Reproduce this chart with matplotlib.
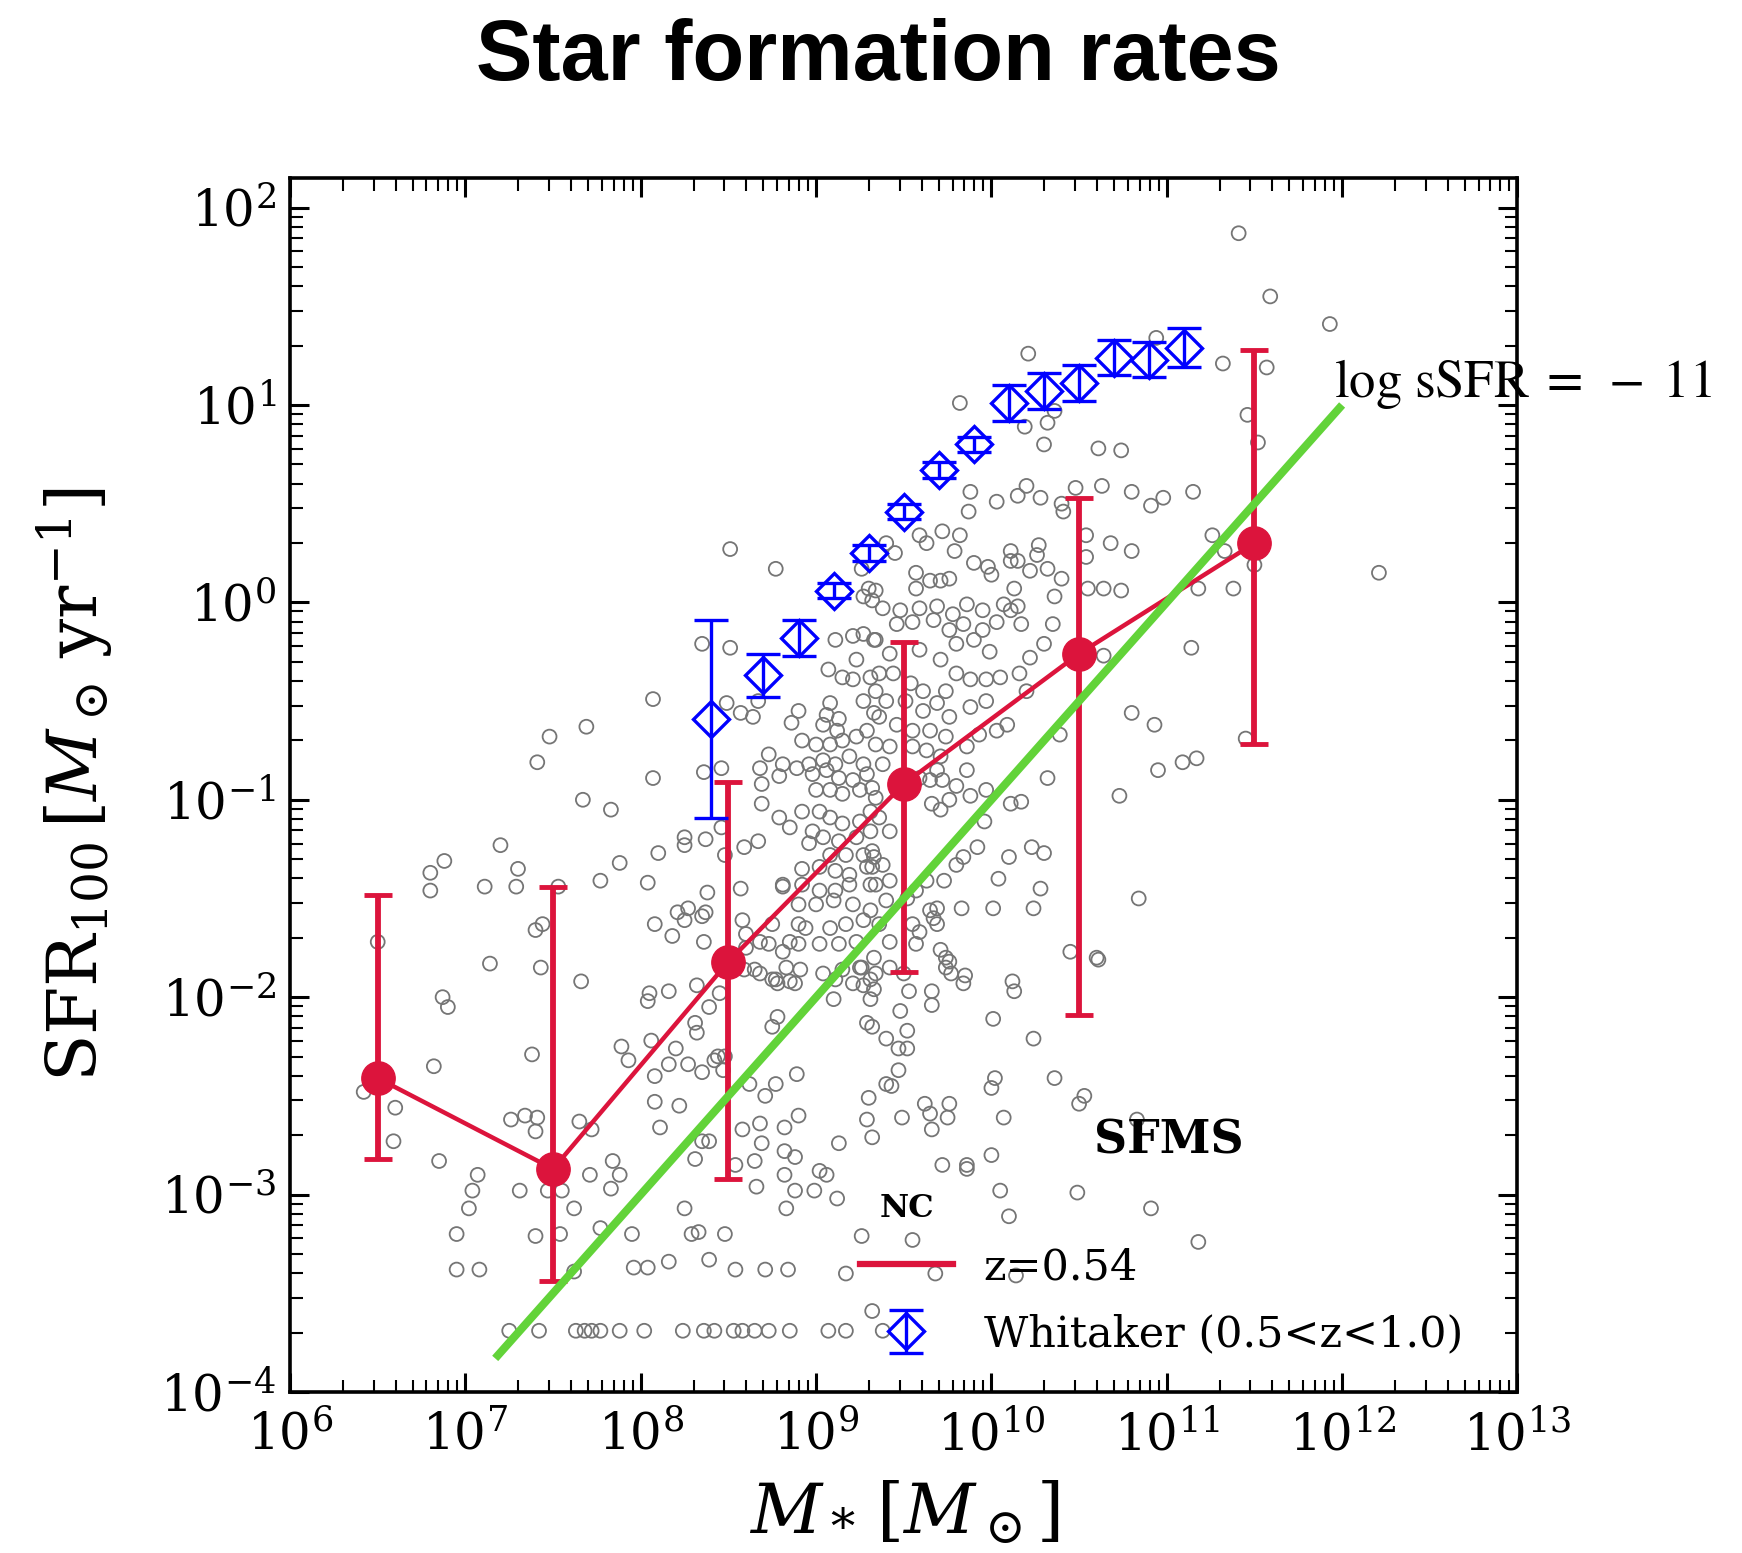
import numpy as np
import matplotlib
matplotlib.use('Agg')
import matplotlib.pyplot as plt
from matplotlib.lines import Line2D
from matplotlib.ticker import LogLocator, NullFormatter

plt.rcParams['font.family'] = ['DejaVu Serif']
plt.rcParams['mathtext.fontset'] = 'dejavuserif'

# ---------------- data (log10 values) ----------------
# NC simulation, z=0.54 : binned medians with error bars
nc_logM = [6.5, 7.5, 8.5, 9.5, 10.5, 11.5]
nc_logSFR = [-2.41, -2.87, -1.82, -0.92, -0.26, 0.30]
nc_logSFR_hi = [-1.48, -1.44, -0.91, -0.20, 0.53, 1.28]
nc_logSFR_lo = [-2.82, -3.44, -2.92, -1.87, -2.09, -0.72]

# Whitaker (0.5<z<1.0)
wh_logM = [8.4, 8.7, 8.9, 9.1, 9.3, 9.5, 9.7, 9.9, 10.1, 10.3, 10.5, 10.7, 10.9, 11.1]
wh_logSFR = [-0.59, -0.37, -0.18, 0.06, 0.25, 0.46, 0.67, 0.80, 1.01, 1.07, 1.11, 1.24, 1.23, 1.29]
wh_err = [0.50, 0.11, 0.09, 0.04, 0.04, 0.04, 0.04, 0.04, 0.09, 0.09, 0.09, 0.09, 0.09, 0.10]

# log sSFR = -11 reference line
ssfr_logM = [7.17, 12.0]
ssfr_value = -11

# individual galaxies (log M*, log SFR)
gal_lowmass = [(6.50,-1.72),(6.80,-1.37),(6.88,-1.31),(6.80,-1.46),(7.20,-1.23),(7.11,-1.44),(7.30,-1.35),
    (7.29,-1.44),(7.41,-0.81),(7.48,-0.68),(7.69,-0.63),(7.67,-1.00),(7.83,-1.05),(7.53,-1.44),(7.40,-1.66),
    (7.44,-1.63),(7.77,-1.41),(7.88,-1.32),(8.07,-0.49),(8.07,-0.89),(8.10,-1.27),(8.04,-1.42),(7.14,-1.83),
    (8.35,-0.21),(8.51,-0.23),(8.49,-0.51),(8.57,-0.56),(8.64,-0.58),(8.67,-0.50),(8.36,-0.86),(8.46,-0.84),
    (8.25,-1.19),(8.25,-1.23),(8.37,-1.20),(8.46,-1.14),(8.48,-1.28),(8.59,-1.24),(8.67,-1.21),(8.38,-1.47),
    (8.57,-1.45),(8.81,-1.44),(8.21,-1.57),(8.27,-1.55),(8.35,-1.59),(8.37,-1.57),(8.08,-1.63),(8.18,-1.69),
    (8.25,-1.61),(8.36,-1.72),(8.58,-1.61),(8.60,-1.68),(8.75,-1.63),(8.85,-1.72),(8.90,-1.63),(8.94,-1.65)]

gal_cloud_left = [(8.86,-0.61),(8.90,-0.55),(9.06,-0.57),(9.08,-0.51),(9.13,-0.59),(9.11,-0.19),(9.21,-0.17),
    (9.27,-0.16),(9.23,-0.29),(9.07,-0.34),(9.15,-0.38),(9.33,-0.19),(9.21,-0.39),(9.31,-0.38),(9.27,-0.50),
    (9.33,-0.56),(9.04,-0.62),(9.12,-0.65),(8.92,-0.70),(9.00,-0.72),(9.08,-0.72),(9.15,-0.70),(9.23,-0.68),
    (9.29,-0.65),(8.73,-0.77),(8.81,-0.82),(8.89,-0.84),(8.96,-0.82),(9.04,-0.80),(9.11,-0.82),(9.19,-0.78),
    (9.27,-0.82),(8.68,-0.84),(8.69,-0.92),(8.79,-0.88),(8.98,-0.87),(9.06,-0.85),(9.13,-0.89),(9.21,-0.90),
    (9.29,-0.87),(9.00,-0.95),(9.08,-0.95),(9.15,-0.97),(9.25,-0.95),(9.32,-0.94),(8.69,-1.02),(8.79,-1.09),
    (8.85,-1.14),(8.92,-1.06),(9.02,-1.06),(9.08,-1.09),(9.15,-1.12),(9.25,-1.11),(9.31,-1.06),(8.98,-1.16),
    (9.04,-1.19),(9.13,-1.21),(9.23,-1.19),(9.31,-1.16),(8.96,-1.22),(9.08,-1.28),(9.17,-1.28),(9.27,-1.28),
    (9.33,-1.29),(8.92,-1.35),(9.02,-1.34),(9.11,-1.36),(9.19,-1.38),(9.29,-1.34),(8.81,-1.43),(8.92,-1.43),
    (9.02,-1.46),(9.11,-1.46),(9.19,-1.43),(9.31,-1.43),(8.90,-1.53),(9.00,-1.53),(9.10,-1.51),(9.21,-1.53),
    (9.31,-1.56),(9.08,-1.65),(9.17,-1.63),(9.27,-1.61),(8.68,-1.72),(8.73,-1.73),(8.60,-1.75),(8.81,-1.77),
    (8.90,-1.73),(9.02,-1.73),(9.13,-1.73),(9.23,-1.72),(9.27,0.03),(9.32,0.01),(8.51,0.27),(8.77,0.17),
    (9.26,0.17),(9.30,0.07)]

gal_faint = [(7.43,-1.85),(7.66,-1.92),(6.87,-2.00),(6.90,-2.05),(6.82,-2.35),(6.42,-2.48),(6.60,-2.56),
    (6.59,-2.73),(6.85,-2.83),(7.38,-2.29),(7.26,-2.62),(7.34,-2.60),(7.41,-2.61),(7.40,-2.68),(7.07,-2.90),
    (7.04,-2.98),(7.02,-3.07),(6.95,-3.20),(6.95,-3.38),(7.08,-3.38),(7.31,-2.98),(7.55,-2.98),(7.47,-2.98),
    (7.40,-3.21),(7.54,-3.20),(7.62,-3.07),(7.65,-2.63),(7.72,-2.67),(7.71,-2.90),(7.84,-2.83),(7.88,-2.90),
    (7.83,-2.97),(7.77,-3.17),(7.95,-3.20),(7.96,-3.37),(8.04,-3.37),(8.16,-3.34),(7.62,-3.39),(8.39,-3.33),
    (8.54,-3.38),(8.71,-3.38),(8.84,-3.38),(9.17,-3.40),(8.29,-3.20),(8.33,-3.19),(8.48,-3.20),(8.25,-3.07),
    (8.83,-3.07),(9.12,-3.02),(9.26,-3.21),(9.32,-3.59),(8.82,-2.90),(8.88,-2.98),(8.99,-2.98),(9.02,-2.88),
    (9.06,-2.90),(8.66,-2.96),(8.65,-2.83),(8.54,-2.85),(9.13,-2.74),(8.82,-2.78),(8.88,-2.81),(8.69,-2.74),
    (8.58,-2.67),(8.68,-2.64),(8.82,-2.66),(8.90,-2.60),(8.31,-2.82),(8.35,-2.73),(8.39,-2.73),(8.08,-2.53),
    (8.22,-2.55),(8.11,-2.66),(8.08,-2.40),(8.16,-2.34),(8.27,-2.34),(8.35,-2.38),(8.42,-2.32),(8.48,-2.30),
    (8.20,-2.26),(8.06,-2.22),(7.89,-2.25),(7.93,-2.32),(8.62,-2.44),(8.71,-2.50),(8.77,-2.44),(8.89,-2.39),
    (8.75,-2.15),(8.78,-2.10),(9.10,-2.01),(9.11,-1.91),(9.26,-1.85),(9.27,-1.94),(9.31,-2.01),(9.29,-2.13),
    (8.78,-1.93),(8.88,-1.93),(8.65,-1.86),(9.04,-1.88),(9.15,-1.86),(9.30,-2.51),(9.29,-2.62),(9.32,-2.71),
    (9.25,-1.85),(9.31,-1.91),(9.21,-1.93),(8.68,-1.88),(8.75,-1.91),(8.83,-1.85),(8.91,-1.86),(8.05,-1.98),
    (8.04,-2.02),(8.16,-1.97),(8.32,-1.94),(8.39,-2.05),(8.45,-1.98),(8.31,-2.13),(8.32,-2.18),(8.59,-1.86),
    (8.77,-1.91),(8.85,-1.92),(8.44,-2.30),(8.47,-2.37)]

gal_floor = [(7.25,-3.69),(7.42,-3.69),(7.63,-3.69),(7.68,-3.69),(7.72,-3.69),(7.77,-3.69),(7.88,-3.69),
    (8.02,-3.69),(8.24,-3.69),(8.36,-3.69),(8.42,-3.69),(8.53,-3.69),(8.58,-3.69),(8.65,-3.69),(8.73,-3.69),
    (8.85,-3.69),(9.07,-3.69),(9.17,-3.69),(9.38,-3.69)]

gal_right_low = [(9.34,-1.88),(9.42,-1.85),(9.33,-1.96),(9.50,-1.88),(9.53,-1.97),(9.66,-1.97),(9.66,-2.04),
    (9.74,-1.85),(9.77,-1.88),(9.85,-1.89),(9.84,-1.93),(9.48,-2.07),(9.52,-2.17),(9.40,-2.21),(9.47,-2.26),
    (9.52,-2.26),(9.32,-2.15),(9.47,-2.37),(9.40,-2.44),(9.43,-2.45),(9.62,-2.54),(9.65,-2.59),(9.76,-2.54),
    (9.75,-2.61),(9.66,-2.67),(9.49,-2.61),(9.72,-2.85),(9.86,-2.85),(9.86,-2.87),(10.00,-2.80),(10.12,-1.92),
    (10.13,-1.97),(10.01,-2.11),(10.24,-2.21),(10.36,-2.41),(10.02,-2.41),(10.00,-2.46),(10.53,-2.50),
    (10.50,-2.54),(10.07,-2.61),(10.05,-2.98),(10.10,-3.11),(10.49,-2.99),(10.91,-3.07),(11.18,-3.24),
    (9.55,-3.23),(9.68,-3.40),(10.83,-2.62),(10.61,-1.81),(10.14,-3.41)]

gal_cloud_right = [(11.14,-0.23),(10.80,-0.56),(10.93,-0.62),(11.45,-0.69),(11.09,-0.81),(11.17,-0.79),
    (10.95,-0.85),(10.73,-0.98),(10.32,-0.89),(10.39,-0.67),(10.23,-1.24),(10.30,-1.27),(10.10,-1.29),
    (10.04,-1.40),(10.28,-1.45),(10.24,-1.55),(10.01,-1.55),(9.83,-1.55),(10.84,-1.50),(10.45,-1.77),
    (10.60,-1.80),(10.36,0.03),(10.35,-0.11),(10.17,-0.11),(10.15,-0.02),(9.95,-0.04),(10.11,-0.04),
    (10.64,-0.27),(10.17,-1.01),(10.11,-1.02),(9.96,-1.11),(9.97,-0.95),(9.86,-0.85),(9.88,-0.98),(9.76,-1.00),
    (9.66,-1.02),(9.71,-1.05),(9.65,-0.90),(9.72,-0.90),(9.80,-0.93),(9.92,-1.24),(9.84,-1.29),(9.80,-1.33),
    (9.69,-1.55),(9.67,-1.60),(9.59,-1.67),(9.71,-1.76),(9.74,-1.80),(9.63,-1.41),(9.73,-1.41),(9.57,-1.46),
    (9.52,-1.50),(9.40,-1.51),(9.34,-1.43),(9.38,-1.33),(9.32,-1.26),(9.36,-1.63),(9.42,-1.72),(9.57,-1.73),
    (9.33,-1.80),(9.38,-0.03),(9.48,-0.04),(9.59,-0.03),(9.69,-0.02),(9.78,-0.06),(9.86,-0.01),(10.07,-0.01),
    (9.46,-0.11),(9.55,-0.10),(9.67,-0.09),(9.76,-0.14),(9.84,-0.11),(9.95,-0.14),(10.03,-0.10),(9.34,-0.19),
    (9.42,-0.26),(9.59,-0.24),(9.71,-0.29),(9.80,-0.21),(9.90,-0.19),(9.99,-0.25),(9.36,-0.36),(9.44,-0.36),
    (9.54,-0.41),(9.61,-0.45),(9.74,-0.45),(9.80,-0.36),(9.88,-0.39),(9.97,-0.39),(10.05,-0.38),(10.16,-0.36),
    (10.22,-0.28),(10.30,-0.21),(10.20,-0.45),(9.34,-0.45),(9.40,-0.50),(9.51,-0.50),(9.61,-0.55),(9.69,-0.51),
    (9.76,-0.58),(9.88,-0.53),(9.97,-0.50),(9.36,-0.58),(9.46,-0.62),(9.55,-0.65),(9.65,-0.65),(9.74,-0.68),
    (9.86,-0.73),(9.93,-0.67),(10.03,-0.65),(10.09,-0.62),(9.34,-0.72),(9.42,-0.73),(9.55,-0.73),(9.63,-0.75),
    (9.71,-0.78),(9.38,-0.82),(9.69,-0.85),(9.59,-0.89),(9.34,-0.99),(9.36,-1.09),(9.42,-1.16),(9.32,-1.34),
    (9.42,-1.41),(9.55,-1.63),(9.65,-1.56),(9.69,-1.63),(9.76,-1.82)]

gal_upper = [(11.41,1.87),(11.59,1.55),(11.93,1.41),(11.32,1.21),(11.57,1.19),(11.46,0.95),(11.52,0.81),
    (12.21,0.15),(10.94,1.34),(10.21,1.26),(9.82,1.01),(10.19,0.89),(10.32,0.91),(10.30,0.80),(10.36,0.97),
    (10.61,0.78),(10.74,0.77),(9.88,0.56),(9.87,0.46),(10.03,0.51),(10.15,0.54),(10.20,0.59),(10.28,0.53),
    (10.48,0.58),(10.63,0.59),(10.80,0.56),(10.91,0.49),(10.98,0.53),(11.15,0.56),(10.40,0.50),(10.41,0.46),
    (9.59,0.34),(9.63,0.30),(9.72,0.36),(9.82,0.34),(9.79,0.26),(9.90,0.20),(9.98,0.18),(10.00,0.14),
    (10.11,0.26),(10.11,0.21),(10.15,0.21),(10.22,0.16),(10.27,0.29),(10.26,0.24),(10.32,0.17),(10.40,0.12),
    (10.54,0.34),(10.54,0.23),(10.68,0.30),(10.80,0.26),(9.57,0.15),(9.65,0.11),(9.71,0.11),(9.76,0.12),
    (9.34,0.06),(9.45,0.25),(9.40,0.30),(9.57,0.07),(10.55,0.07),(10.64,0.07),(10.74,0.06),(11.18,0.07),
    (11.38,0.07),(11.26,0.34),(11.33,0.26),(11.50,0.19),(10.13,0.07)]

# ---------------- figure ----------------
RED = '#DC143C'
BLUE = '#0000FF'
GREEN = '#62d339'

fig = plt.figure(figsize=(17.42, 15.53), dpi=100)
ax = fig.add_axes([0.1665, 0.1037, 0.7046, 0.7817])

gal = np.array(gal_lowmass + gal_cloud_left + gal_faint + gal_floor +
               gal_right_low + gal_cloud_right + gal_upper)
ax.scatter(10**gal[:, 0], 10**gal[:, 1], s=100, facecolors='none',
           edgecolors='#757575', linewidths=1.3, zorder=1)

# NC medians
nx = 10**np.array(nc_logM)
ny = 10**np.array(nc_logSFR)
nerr = [ny - 10**np.array(nc_logSFR_lo), 10**np.array(nc_logSFR_hi) - ny]
ax.errorbar(nx, ny, yerr=nerr, color=RED, marker='o', ms=24, lw=3.2,
            elinewidth=4.2, capsize=10, capthick=3.5, zorder=3)

# Whitaker
wx = 10**np.array(wh_logM)
wy = 10**np.array(wh_logSFR)
we = np.array(wh_err)
werr = [wy - 10**(np.array(wh_logSFR) - we), 10**(np.array(wh_logSFR) + we) - wy]
wh = ax.errorbar(wx, wy, yerr=werr, fmt='D', mfc='none', mec=BLUE, color=BLUE,
                 ms=18, mew=2.4, elinewidth=2.4, capsize=12, capthick=2.4, zorder=4)

# sSFR line
gx = 10**np.array(ssfr_logM)
gy = gx * 10.0**ssfr_value
ax.plot(gx, gy, color=GREEN, lw=5.8, solid_capstyle='butt', zorder=6)
ax.text(10**11.955, 10**1.042, r'$\log\,\mathrm{sSFR}\;=\;-\;11$', fontsize=38,
        math_fontfamily='stix', ha='left', va='baseline', zorder=7)

# axes
ax.set_xscale('log')
ax.set_yscale('log')
ax.set_xlim(1e6, 1e13)
ax.set_ylim(1e-4, 10**2.15)
ax.xaxis.set_major_locator(LogLocator(base=10, numticks=20))
ax.xaxis.set_minor_locator(LogLocator(base=10, subs=np.arange(2, 10), numticks=200))
ax.yaxis.set_major_locator(LogLocator(base=10, numticks=20))
ax.yaxis.set_minor_locator(LogLocator(base=10, subs=np.arange(2, 10), numticks=200))
ax.xaxis.set_minor_formatter(NullFormatter())
ax.yaxis.set_minor_formatter(NullFormatter())
ax.tick_params(which='both', direction='in', top=True, right=True)
ax.tick_params(which='major', length=14, width=2.2, labelsize=36)
ax.tick_params(axis='x', which='major', pad=14)
ax.tick_params(axis='y', which='major', pad=10)
ax.tick_params(which='minor', length=9, width=1.5)
for sp in ax.spines.values():
    sp.set_linewidth(2.6)

ax.set_xlabel(r'$M_*\,[M_\odot]$', fontsize=50)
ax.set_ylabel(r'$\mathrm{SFR}_{100}\,[M_\odot\,\mathrm{yr}^{-1}]$', fontsize=50)
ax.xaxis.set_label_coords(0.5, -0.072)
ax.yaxis.set_label_coords(-0.143, 0.5)

# annotations
ax.text(0.716, 0.207, 'SFMS', transform=ax.transAxes, fontsize=33,
        fontweight='bold', ha='center', va='center')
ax.text(0.503, 0.151, 'NC', transform=ax.transAxes, fontsize=23,
        fontweight='bold', ha='center', va='center')

red_handle = Line2D([], [], color=RED, lw=4.5)
ax.legend([red_handle, wh], ['z=0.54', 'Whitaker (0.5<z<1.0)'],
          loc='lower left', bbox_to_anchor=(0.4645, 0.03), frameon=False,
          fontsize=31, handlelength=2.15, handletextpad=0.72, labelspacing=0.58,
          borderpad=0, borderaxespad=0)

fig.text(0.504, 0.9485, 'Star formation rates', ha='center', va='baseline',
         fontsize=61, fontweight='bold', family='Liberation Sans')

fig.savefig('out.png', dpi=100)
